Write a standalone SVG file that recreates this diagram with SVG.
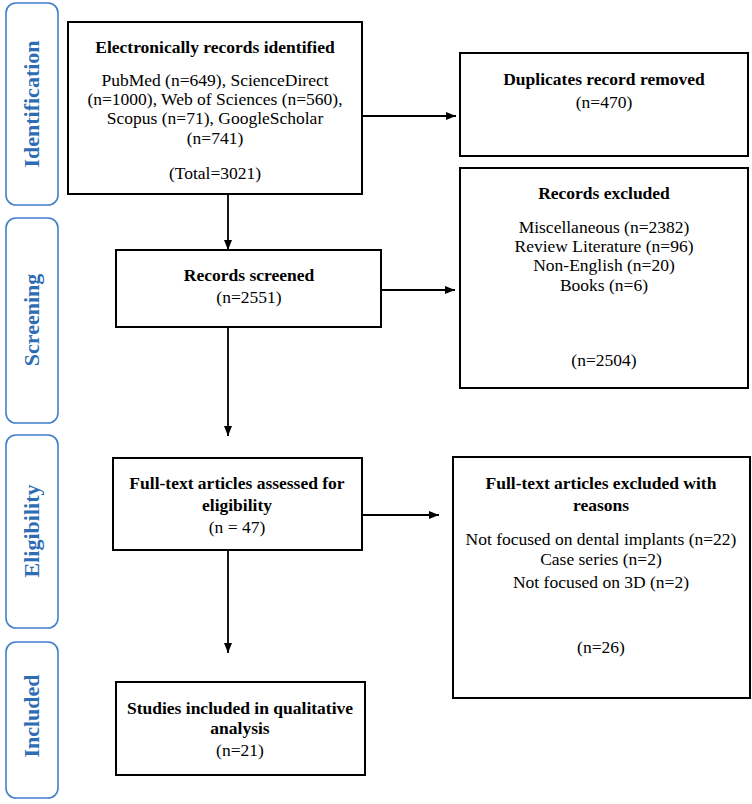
<svg xmlns="http://www.w3.org/2000/svg" width="752" height="804" viewBox="0 0 752 804">
<style>
.tab{fill:#fff;stroke:#3F7FCC;stroke-width:1.6}
.tabt{font-family:"Liberation Serif",serif;font-weight:bold;font-size:22px;fill:#2E6DB4;text-anchor:middle}
.box{fill:#fff;stroke:#000;stroke-width:2}
.t{font-family:"Liberation Serif",serif;font-size:17.5px;fill:#000;text-anchor:middle}
.b{font-weight:bold}
.c{stroke:#000;stroke-width:1.8;fill:none}
</style>
<defs>
<marker id="ah" markerWidth="10" markerHeight="8" refX="10" refY="4" orient="auto" markerUnits="userSpaceOnUse">
<path d="M0,0 L10,4 L0,8 Z" fill="#000"/>
</marker>
</defs>
<rect width="752" height="804" fill="#fff"/>
<g id="tab-identification"><rect class="tab" x="6" y="3" width="52" height="202" rx="10"/><text class="tabt" transform="translate(39,104) rotate(-90)">Identification</text></g>
<g id="tab-screening"><rect class="tab" x="6" y="218" width="52" height="205" rx="10"/><text class="tabt" transform="translate(39,320) rotate(-90)">Screening</text></g>
<g id="tab-eligibility"><rect class="tab" x="6" y="435" width="52" height="193" rx="10"/><text class="tabt" transform="translate(39,531) rotate(-90)">Eligibility</text></g>
<g id="tab-included"><rect class="tab" x="6" y="642" width="52" height="156" rx="10"/><text class="tabt" transform="translate(39,716) rotate(-90)">Included</text></g>
<g id="connectors">
<line class="c" x1="362" y1="116" x2="456" y2="116" marker-end="url(#ah)"/>
<line class="c" x1="228" y1="194" x2="228" y2="250" marker-end="url(#ah)"/>
<line class="c" x1="381" y1="290" x2="455" y2="290" marker-end="url(#ah)"/>
<line class="c" x1="228" y1="327" x2="228" y2="436" marker-end="url(#ah)"/>
<line class="c" x1="362" y1="515" x2="439" y2="515" marker-end="url(#ah)"/>
<line class="c" x1="228" y1="550" x2="228" y2="653" marker-end="url(#ah)"/>
</g>
<g id="identified"><rect class="box" x="68" y="22" width="294" height="172"/>
<text class="t b" x="215" y="53">Electronically records identified</text>
<text class="t" x="215" y="86">PubMed (n=649), ScienceDirect</text>
<text class="t" x="215" y="105">(n=1000), Web of Sciences (n=560),</text>
<text class="t" x="215" y="124">Scopus (n=71), GoogleScholar</text>
<text class="t" x="215" y="144">(n=741)</text>
<text class="t" x="215" y="179">(Total=3021)</text>
</g>
<g id="duplicates"><rect class="box" x="460" y="53" width="288" height="103"/>
<text class="t b" x="604" y="85">Duplicates record removed</text>
<text class="t" x="604" y="108">(n=470)</text>
</g>
<g id="screened"><rect class="box" x="116" y="250" width="265" height="77"/>
<text class="t b" x="249" y="281">Records screened</text>
<text class="t" x="249" y="303">(n=2551)</text>
</g>
<g id="excluded"><rect class="box" x="460" y="168" width="288" height="220"/>
<text class="t b" x="604" y="199">Records excluded</text>
<text class="t" x="604" y="233">Miscellaneous (n=2382)</text>
<text class="t" x="604" y="252">Review Literature (n=96)</text>
<text class="t" x="604" y="271">Non-English (n=20)</text>
<text class="t" x="604" y="291">Books (n=6)</text>
<text class="t" x="604" y="366">(n=2504)</text>
</g>
<g id="fulltext"><rect class="box" x="113" y="458" width="249" height="92"/>
<text class="t b" x="237" y="489">Full-text articles assessed for</text>
<text class="t b" x="237" y="511">eligibility</text>
<text class="t" x="237" y="533">(n = 47)</text>
</g>
<g id="fulltext-excluded"><rect class="box" x="453" y="457" width="297" height="241"/>
<text class="t b" x="601" y="489">Full-text articles excluded with</text>
<text class="t b" x="601" y="511">reasons</text>
<text class="t" x="601" y="545">Not focused on dental implants (n=22)</text>
<text class="t" x="601" y="565">Case series (n=2)</text>
<text class="t" x="601" y="588">Not focused on 3D (n=2)</text>
<text class="t" x="601" y="653">(n=26)</text>
</g>
<g id="included"><rect class="box" x="116" y="682" width="249" height="93"/>
<text class="t b" x="240" y="714">Studies included in qualitative</text>
<text class="t b" x="240" y="734">analysis</text>
<text class="t" x="240" y="756">(n=21)</text>
</g>
</svg>
